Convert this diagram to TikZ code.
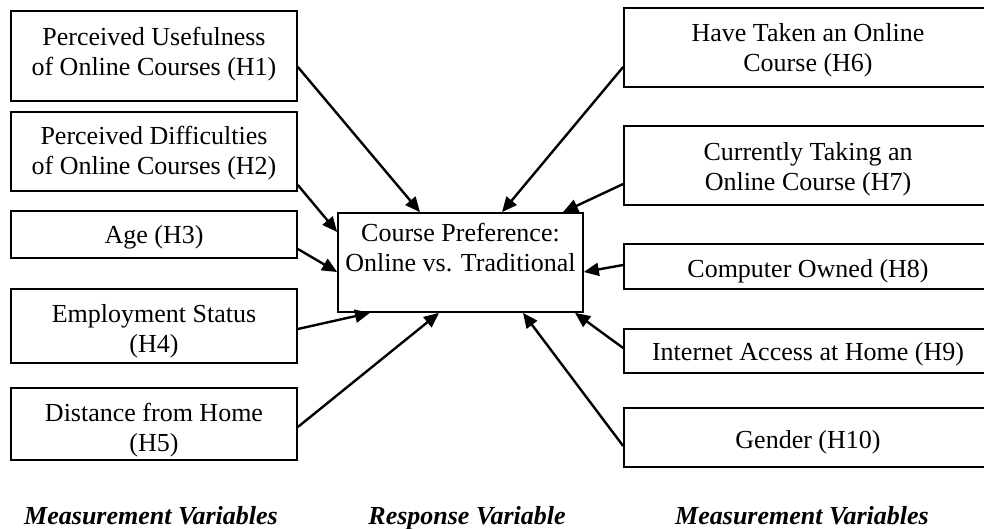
\documentclass[tikz,border=0pt]{standalone}
\usepackage{fontspec}
\setmainfont{Liberation Serif}
\usetikzlibrary{arrows.meta}
\begin{document}
\begin{tikzpicture}[x=1pt,y=-1pt,
  box/.style={draw, line width=1.7pt, rectangle, inner sep=0pt},
  lbox/.style={box, minimum width=286pt},
  rbox/.style={box, minimum width=368pt},
  txt/.style={font=\fontsize{26}{30}\selectfont, align=center, inner sep=0pt},
  caption/.style={font=\fontsize{26}{30}\selectfont\bfseries\itshape, inner sep=0pt, anchor=base},
  link/.style={line width=2.4pt, -{Triangle[length=15pt,width=13pt]}}]
\useasboundingbox (0,0) rectangle (984,529);
\clip (0,0) rectangle (984,529);

% explanatory variables, left column
\node[lbox, minimum height=90pt] (b1) at (154,56) {};
\node[lbox, minimum height=79pt] (b2) at (154,151.5) {};
\node[lbox, minimum height=47pt] (b3) at (154,234.5) {};
\node[lbox, minimum height=74pt] (b4) at (154,326) {};
\node[lbox, minimum height=72pt] (b5) at (154,424) {};
\node[txt] (t1) at (154,54) {Perceived Usefulness\\of Online Courses (H1)};
\node[txt] (t2) at (154,153) {Perceived Difficulties\\of Online Courses (H2)};
\node[txt] (t3) at (154,237) {Age (H3)};
\node[txt] (t4) at (154,331) {Employment Status\\(H4)};
\begin{scope}
  \clip (b5.north west) rectangle (b5.south east);
  \node[txt] (t5) at (154,430) {Distance from Home\\(H5)};
\end{scope}

% response variable
\node[box, minimum width=245pt, minimum height=99pt] (c) at (460.5,262.5) {};
\node[txt] (ct) at (460.5,248) {Course Preference:\\Online vs. Traditional};

% explanatory variables, right column
\node[rbox, minimum height=79pt] (r1) at (808,47.5) {};
\node[rbox, minimum height=79pt] (r2) at (808,165.5) {};
\node[rbox, minimum height=45pt] (r3) at (808,266.5) {};
\node[rbox, minimum height=44pt] (r4) at (808,351) {};
\node[rbox, minimum height=59pt] (r5) at (808,437.5) {};
\node[txt] (u1) at (808,50) {Have Taken an Online\\Course (H6)};
\node[txt] (u2) at (808,169) {Currently Taking an\\Online Course (H7)};
\node[txt] (u3) at (808,271) {Computer Owned (H8)};
\node[txt] (u4) at (808,354) {Internet Access at Home (H9)};
\node[txt] (u5) at (808,442) {Gender (H10)};

% hypothesised effects
\draw[link] ([yshift=-11pt]b1.east) -- ([xshift=-40.5pt]c.north);
\draw[link] ([yshift=-33.5pt]b2.east) -- ([yshift=30.5pt]c.west);
\draw[link] ([yshift=-14.5pt]b3.east) -- ([yshift=-9.5pt]c.west);
\draw[link] ([yshift=-3pt]b4.east) -- ([xshift=-90.5pt]c.south);
\draw[link] ([yshift=-3pt]b5.east) -- ([xshift=-21.5pt]c.south);
\draw[link] ([yshift=-19.5pt]r1.west) -- ([xshift=41.5pt]c.north);
\draw[link] ([yshift=-18.5pt]r2.west) -- ([xshift=102.5pt]c.north);
\draw[link] ([yshift=1.5pt]r3.west) -- ([yshift=-9.5pt]c.east);
\draw[link] ([yshift=3pt]r4.west) -- ([xshift=114.5pt]c.south);
\draw[link] ([yshift=-8.5pt]r5.west) -- ([xshift=62.5pt]c.south);

% column captions
\node[caption] (capl) at (151,524) {Measurement Variables};
\node[caption] (capm) at (467,524) {Response Variable};
\node[caption] (capr) at (802,524) {Measurement Variables};
\end{tikzpicture}
\end{document}
